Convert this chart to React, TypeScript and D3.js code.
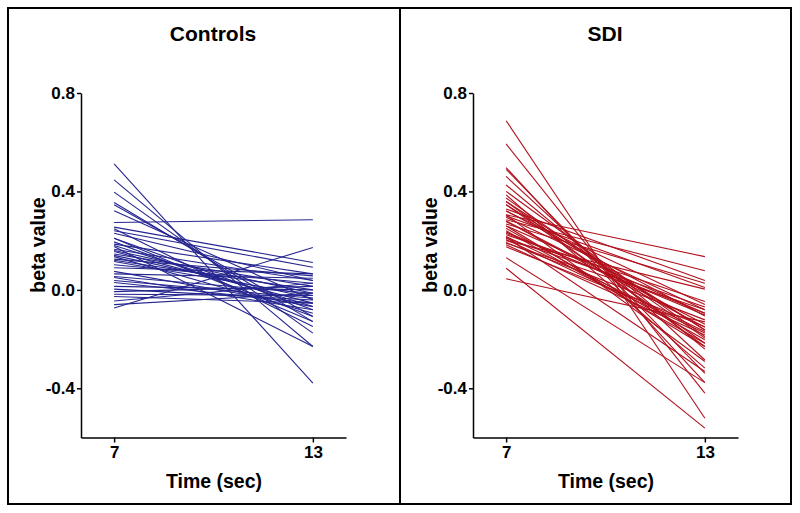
import * as d3 from 'd3'
import { useEffect, useRef } from 'react'

// beta values at 7 s and 13 s, one entry per subject
const controlsStart = [
  0.512, 0.447, 0.397, 0.355, 0.346, 0.321, 0.274, 0.255, 0.248, 0.24, 0.21,
  0.186, 0.176, 0.165, 0.156, 0.146, 0.135, 0.125, 0.115, 0.102, 0.075, 0.065,
  0.054, 0.038, 0.014, 0.003, -0.007, -0.018, -0.027, -0.045, -0.074, 0.23,
  0.195, 0.16, 0.09, 0.14, 0.05, 0.12, 0.21, 0.03, -0.06, 0.18,
]
const controlsEnd = [
  -0.379, -0.23, -0.176, -0.129, -0.108, -0.041, 0.285, 0.111, -0.149, 0.092,
  -0.081, 0.065, -0.23, 0.038, -0.054, 0.014, -0.095, 0.057, -0.023, 0.027,
  -0.068, 0.047, -0.014, -0.034, 0.0, -0.041, 0.014, -0.023, -0.054, 0.027,
  0.172, 0.038, -0.108, -0.014, 0.065, -0.034, -0.081, 0.0, -0.129, -0.054,
  -0.014, -0.068,
]
const sdiStart = [
  0.687, 0.593, 0.497, 0.49, 0.461, 0.426, 0.386, 0.373, 0.359, 0.346, 0.305,
  0.285, 0.329, 0.321, 0.295, 0.278, 0.268, 0.26, 0.224, 0.217, 0.21, 0.2,
  0.192, 0.183, 0.131, 0.088, 0.045, 0.346, 0.359, 0.305, 0.25, 0.24, 0.215,
  0.19, 0.32, 0.28, 0.235, 0.205, 0.26, 0.3, 0.175, 0.23, 0.4,
]
const sdiEnd = [
  -0.522, -0.42, -0.377, -0.339, -0.285, -0.241, -0.318, -0.196, -0.23, -0.163,
  0.135, 0.078, 0.038, -0.106, -0.081, -0.152, 0.027, -0.095, -0.047, -0.169,
  -0.07, 0.003, -0.122, -0.183, -0.377, -0.562, -0.13, -0.217, -0.163, -0.291,
  -0.203, -0.217, -0.332, -0.081, -0.06, -0.14, -0.102, -0.175, -0.23, 0.01,
  -0.15, -0.095, -0.19,
]
const times = [7, 13]
const yTicks = [-0.4, 0.0, 0.4, 0.8]

const panels = [
  { title: 'Controls', start: controlsStart, end: controlsEnd, color: '#25258f', dx: 0 },
  { title: 'SDI', start: sdiStart, end: sdiEnd, color: '#b0101c', dx: 392 },
]

const App = () => {
  const svgRef = useRef<SVGSVGElement>(null)

  useEffect(() => {
    const svg = d3.select(svgRef.current)
    svg.selectAll('*').remove()
    const font = 'Arial, "Liberation Sans", sans-serif'

    // frame
    svg
      .append('rect')
      .attr('x', 8)
      .attr('y', 8)
      .attr('width', 783)
      .attr('height', 496)
      .attr('fill', 'none')
      .attr('stroke', '#000')
      .attr('stroke-width', 2)
    svg
      .append('line')
      .attr('x1', 400)
      .attr('x2', 400)
      .attr('y1', 8)
      .attr('y2', 504)
      .attr('stroke', '#000')
      .attr('stroke-width', 2)

    panels.forEach((p) => {
      const g = svg.append('g').attr('transform', `translate(${p.dx}, 0)`)
      const x = d3.scaleLinear().domain([6, 14]).range([81, 346])
      const y = d3.scaleLinear().domain([-0.6, 0.8]).range([437.5, 93])

      // lines
      g.append('g')
        .selectAll('line')
        .data(p.start.map((s, i) => [s, p.end[i]]))
        .join('line')
        .attr('x1', x(times[0]))
        .attr('x2', x(times[1]))
        .attr('y1', (d) => y(d[0]))
        .attr('y2', (d) => y(d[1]))
        .attr('stroke', p.color)
        .attr('stroke-width', 1.1)

      // y axis
      const yAxis = d3
        .axisLeft(y)
        .tickValues(yTicks)
        .tickSizeOuter(0)
        .tickSizeInner(4)
        .tickPadding(2)
        .tickFormat((v) => (+v).toFixed(1))
      const yG = g.append('g').attr('transform', `translate(${x(6)}, 0)`)
      yAxis(yG)
      yG.select('.domain').attr('stroke-width', 1.5)
      yG.selectAll('line').attr('stroke-width', 1.5)
      yG.selectAll('text')
        .style('font-family', font)
        .style('font-weight', 'bold')
        .style('font-size', '17px')
        .attr('fill', '#000')

      // x axis
      const xAxis = d3
        .axisBottom(x)
        .tickValues(times)
        .tickSizeOuter(0)
        .tickSizeInner(5)
        .tickPadding(3)
        .tickFormat((v) => String(v))
      const xG = g.append('g').attr('transform', `translate(0, ${y(-0.6)})`)
      xAxis(xG)
      xG.select('.domain').attr('stroke-width', 1.5)
      xG.selectAll('line').attr('stroke-width', 1.5)
      xG.selectAll('text')
        .style('font-family', font)
        .style('font-weight', 'bold')
        .style('font-size', '17px')
        .attr('fill', '#000')

      // labels
      g.append('text')
        .attr('x', 213)
        .attr('y', 41)
        .attr('text-anchor', 'middle')
        .style('font-family', font)
        .style('font-weight', 'bold')
        .style('font-size', '21px')
        .text(p.title)
      g.append('text')
        .attr('x', 214)
        .attr('y', 488)
        .attr('text-anchor', 'middle')
        .style('font-family', font)
        .style('font-weight', 'bold')
        .style('font-size', '19.5px')
        .text('Time (sec)')
      g.append('text')
        .attr('transform', 'rotate(-90)')
        .attr('x', -245)
        .attr('y', 45)
        .attr('text-anchor', 'middle')
        .style('font-family', font)
        .style('font-weight', 'bold')
        .style('font-size', '19.5px')
        .text('beta value')
    })
  }, [])

  return (
    <svg
      ref={svgRef}
      width={800}
      height={513}
      style={{ position: 'absolute', left: 0, top: 0, background: '#fff' }}
    ></svg>
  )
}
export default App
